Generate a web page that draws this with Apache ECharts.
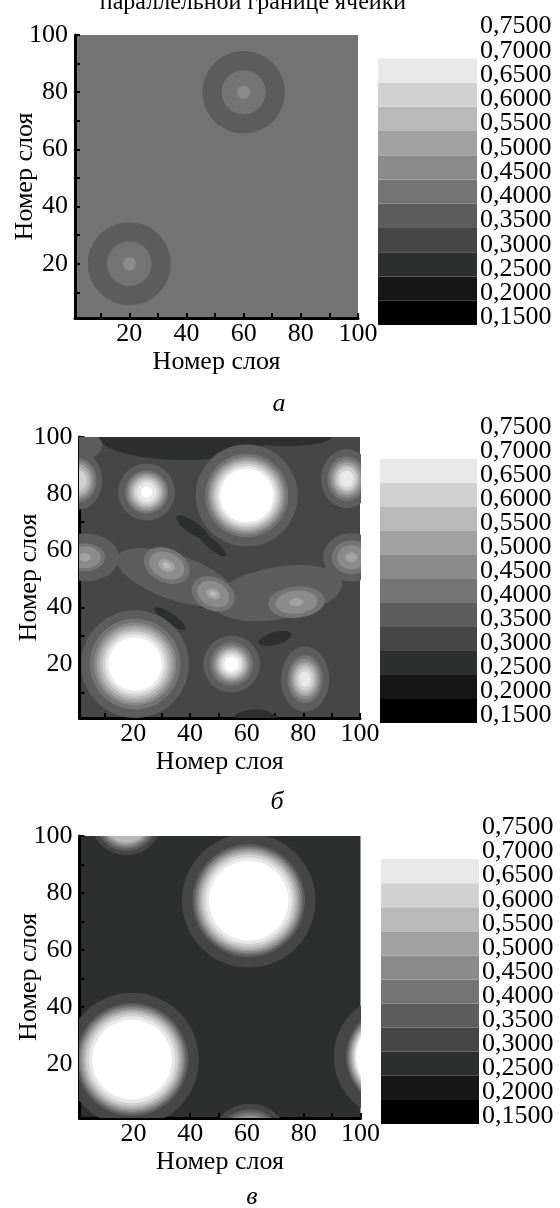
<!DOCTYPE html>
<html lang="ru">
<head>
<meta charset="utf-8">
<title>Номер слоя</title>
<script src="https://cdn.jsdelivr.net/npm/echarts@6/dist/echarts.min.js"></script>
<style>
  html, body { margin: 0; padding: 0; background: #fff; }
  #chart { width: 560px; height: 1208px; }
</style>
</head>
<body>
<div id="chart"></div>
<script>
// colour scale: band edges and the grey of each band
var bandEdges = [0.15, 0.20, 0.25, 0.30, 0.35, 0.40, 0.45, 0.50, 0.55, 0.60, 0.65, 0.70, 0.75];
var bandColors = ['#000000', '#171717', '#2d2f2f', '#464646', '#5d5d5d', '#747474',
                  '#8b8b8b', '#a2a2a2', '#b9b9b9', '#d1d1d1', '#e8e8e8', '#ffffff'];

var tickValues = [10, 20, 30, 40, 50, 60, 70, 80, 90, 100];
var labelValues = [20, 40, 60, 80, 100];

// spots: [x, y, y/x ratio, angle deg, lowest level, radii for each level step of 0.05]
// panel а
var backA = 0.40;
var spotsA = [
    [20, 20, 1, 0, 0.35, [14.5, 7.8, 2.3]],
    [60, 80, 1, 0, 0.35, [14.4, 7.7, 2.3]]
];

// panel б
var backB = 0.30;
var spotsB = [
    [38, 100, 0.27, 0, 0.25, [30]],
    [74, 100, 0.2, 0, 0.25, [16]],
    [41, 68, 0.3, -35, 0.25, [7]],
    [48, 62, 0.28, -40, 0.25, [6]],
    [33, 36, 0.28, -35, 0.25, [6.5]],
    [63, 0, 0.5, 0, 0.25, [8]],
    [70, 29, 0.37, 15, 0.25, [6]],
    [2, 97, 0.7, 0, 0.35, [7]],
    [35, 50.5, 0.36, -19, 0.35, [22]],
    [71, 45, 0.4, 10, 0.35, [23]],
    [20.6, 20, 1, 0, 0.35, [19, 16, 14.5, 13.5, 12.5, 11.5, 10.5, 9.4]],
    [60, 79.4, 1, 0, 0.35, [18, 14.7, 13.6, 12.8, 12, 11.2, 10.3, 9.4]],
    [24.7, 80.6, 1, 0, 0.35, [10, 7.6, 6.8, 6, 5.3, 4.5, 3.5, 2]],
    [95.3, 85.3, 1.15, 0, 0.35, [9, 6.8, 5.8, 5, 4.2, 3.5, 2.5]],
    [0.5, 84.7, 1.2, 0, 0.35, [8.5, 6.5, 5.6, 4.8, 4, 3]],
    [54.7, 20, 1, 0, 0.35, [10, 7.6, 6.5, 5.7, 5, 4.3, 3.5, 2.5]],
    [80.6, 14.7, 1.35, 0, 0.35, [8.5, 6.2, 5.3, 4.5, 3.8, 3, 2]],
    [31.8, 54.7, 0.7, -25, 0.40, [8.5, 6.5, 3, 1.5]],
    [48.2, 44.7, 0.72, -25, 0.40, [8, 6, 2.5, 1.2]],
    [77.6, 41.8, 0.55, 5, 0.40, [10, 7.4, 2.5]],
    [97, 57.6, 0.85, 0, 0.35, [10, 7, 5, 2]],
    [3, 57.6, 0.7, 0, 0.35, [12, 7, 5.5, 2]]
];

// panel в
var backC = 0.25;
var spotsC = [
    [19.5, 21.5, 1, 0, 0.30, [23.5, 19.8, 19, 18.4, 17.7, 17, 16.2, 15.2, 14]],
    [60.6, 77.3, 1, 0, 0.30, [23.5, 19.8, 19, 18.4, 17.7, 17, 16.2, 15.2, 14]],
    [17.5, 106, 1, 0, 0.30, [12.7, 11.2, 10.3, 9.6, 8.9, 8.3]],
    [112.5, 22.5, 1, 0, 0.30, [21.9, 17.6, 17, 16.5, 16, 15.5, 15, 14.5, 14]],
    [61, -8, 1, 0, 0.30, [14, 12, 11, 10, 9.3]]
];

var serif = '"Liberation Serif", "Times New Roman", serif';

function levelColor(v) {
    var i = Math.round((v - 0.15) / 0.05);
    return bandColors[Math.max(0, Math.min(bandColors.length - 1, i))];
}

function toItems(spots) {
    var items = [];
    spots.forEach(function (s) {
        s[5].forEach(function (r, k) {
            items.push([s[0], s[1], r, r * s[2], s[3], +(s[4] + 0.05 * k).toFixed(2)]);
        });
    });
    items.sort(function (a, b) { return a[5] - b[5]; });
    return items;
}

function renderSpot(params, api) {
    var cx = api.value(0), cy = api.value(1), rx = api.value(2), ry = api.value(3);
    var ang = api.value(4) * Math.PI / 180;
    var pts = [];
    for (var i = 0; i < 72; i++) {
        var t = i / 72 * Math.PI * 2;
        var px = rx * Math.cos(t), py = ry * Math.sin(t);
        pts.push(api.coord([cx + px * Math.cos(ang) - py * Math.sin(ang),
                            cy + px * Math.sin(ang) + py * Math.cos(ang)]));
    }
    return { type: 'polygon', shape: { points: pts }, style: { fill: levelColor(api.value(5)) } };
}

var bands = [];
for (var b = 0; b < bandEdges.length - 1; b++) bands.push([bandEdges[b], bandEdges[b + 1]]);

function renderBand(params, api) {
    var p0 = api.coord([0, api.value(1)]);
    var p1 = api.coord([1, api.value(0)]);
    return {
        type: 'rect',
        shape: { x: p0[0], y: p0[1], width: p1[0] - p0[0], height: p1[1] - p0[1] },
        style: { fill: bandColors[params.dataIndex] }
    };
}

// colour bar labels, one per band edge, just right of the bar
function renderEdgeLabel(params, api) {
    var v = api.value(1);
    var p = api.coord([1, v]);
    return {
        type: 'text', x: p[0] + 3, y: p[1] - 7.5,
        style: { text: v.toFixed(4).replace('.', ','), font: '26px ' + serif, fill: '#000',
            align: 'left', verticalAlign: 'middle' }
    };
}

var txt = { color: '#000', fontSize: 26, fontFamily: serif };

var plots = [
    { left: 75, top: 35, width: 283, height: 283, back: backA, spots: spotsA },
    { left: 79.5, top: 437, width: 280.5, height: 281, back: backB, spots: spotsB },
    { left: 79.5, top: 836, width: 281, height: 282, back: backC, spots: spotsC }
];
var bars = [
    { left: 378, top: 34, width: 99, height: 291 },
    { left: 380, top: 435, width: 97, height: 288 },
    { left: 381, top: 835, width: 98, height: 289 }
];

var grid = [], xAxis = [], yAxis = [], series = [];

plots.forEach(function (p, i) {
    grid.push({ left: p.left, top: p.top, width: p.width, height: p.height, show: true,
        backgroundColor: levelColor(p.back), borderWidth: 0, outerBoundsMode: 'none' });
    var axisBase = {
        gridIndex: i, type: 'value', min: 1, max: 100,
        axisLine: { onZero: false, lineStyle: { color: '#000', width: 3 } },
        axisTick: { inside: true, length: 5, lineStyle: { color: '#000', width: 2 }, customValues: tickValues },
        axisLabel: Object.assign({ customValues: labelValues, margin: 3 }, txt),
        splitLine: { show: false },
        name: 'Номер слоя', nameLocation: 'middle', nameMoveOverlap: false, nameTextStyle: txt
    };
    xAxis.push(Object.assign({}, axisBase, { nameGap: 31 }));
    yAxis.push(Object.assign({}, axisBase, { nameGap: 37,
        axisLabel: Object.assign({ customValues: labelValues, margin: 7 }, txt) }));
    series.push({
        type: 'custom', xAxisIndex: i, yAxisIndex: i, clip: true, silent: true,
        renderItem: renderSpot, data: toItems(p.spots)
    });
});

bars.forEach(function (c, i) {
    var gi = 3 + i;
    grid.push({ left: c.left, top: c.top, width: c.width, height: c.height, outerBoundsMode: 'none' });
    xAxis.push({ gridIndex: gi, type: 'value', min: 0, max: 1, show: false });
    yAxis.push({ gridIndex: gi, type: 'value', min: 0.15, max: 0.75, show: false });
    series.push({
        type: 'custom', xAxisIndex: gi, yAxisIndex: gi, silent: true,
        encode: { y: [0, 1] }, renderItem: renderBand, data: bands
    });
    series.push({
        type: 'custom', xAxisIndex: gi, yAxisIndex: gi, silent: true,
        renderItem: renderEdgeLabel,
        data: bandEdges.map(function (v) { return [1, v]; })
    });
});

var letters = [['а', 279, 404], ['б', 277, 802], ['в', 252, 1197]];
var graphic = [{
    type: 'text', x: 253, y: 15,
    style: { text: 'параллельной границе ячейки', font: '24px ' + serif, fill: '#000',
        textAlign: 'center', textVerticalAlign: 'bottom' }
}];
letters.forEach(function (l) {
    graphic.push({
        type: 'text', x: l[1], y: l[2],
        style: { text: l[0], font: 'italic 26px ' + serif, fill: '#000',
            textAlign: 'center', textVerticalAlign: 'middle' }
    });
});

var myChart = echarts.init(document.getElementById('chart'));
myChart.setOption({
    animation: false,
    backgroundColor: '#fff',
    grid: grid,
    xAxis: xAxis,
    yAxis: yAxis,
    series: series,
    graphic: graphic
});
</script>
</body>
</html>
